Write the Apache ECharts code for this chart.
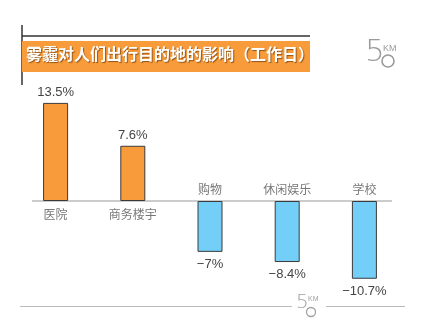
<!DOCTYPE html>
<html><head><meta charset="utf-8">
<script src="https://cdn.jsdelivr.net/npm/echarts@6/dist/echarts.min.js"></script>
<style>html,body{margin:0;padding:0;background:#fff}#c{width:424px;height:332px}</style>
</head><body><div id="c"></div>
<script>
var categories = ['医院', '商务楼宇', '购物', '休闲娱乐', '学校'];
var values = [13.5, 7.6, -7, -8.4, -10.7];
var titleText = '雾霾对人们出行目的地的影响（工作日）';

var chart = echarts.init(document.getElementById('c'), null, {renderer: 'canvas'});
var FONT = '"Noto Sans CJK SC", "Liberation Sans", sans-serif';

function fmt(v) { return (v < 0 ? '\u2212' + Math.abs(v) : String(v)) + '%'; }

var option = {
  backgroundColor: '#fff',
  animation: false,
  grid: {left: 17, right: 21, top: 92, bottom: 22},
  xAxis: {type: 'category', data: categories, axisLine: {show: false}, axisTick: {show: false}, axisLabel: {show: false}, splitLine: {show: false}},
  yAxis: {type: 'value', min: -15, max: 15, show: false, splitLine: {show: false}},
  series: [
    {
      type: 'bar', barWidth: 25,
      data: values.map(function (v) {
        return {
          value: v,
          itemStyle: {color: v >= 0 ? '#F89B3A' : '#73CFF7', borderColor: '#3a3a3a', borderWidth: 1},
          label: {show: true, position: v >= 0 ? 'top' : 'bottom', distance: v >= 0 ? 4 : 6,
                  formatter: fmt(v), fontSize: 13, color: '#444', fontFamily: '"Liberation Sans", Arial, sans-serif'}
        };
      })
    },
    {
      type: 'scatter', symbolSize: 0, silent: true,
      data: values.map(function (v, i) {
        return {
          value: [categories[i], 0],
          label: {show: true, position: v >= 0 ? 'bottom' : 'top', distance: v >= 0 ? 7 : 6,
                  formatter: categories[i], fontSize: 12, color: '#555', fontFamily: FONT}
        };
      })
    }
  ],
  graphic: [
    {type: 'line', shape: {x1: 22, y1: 36, x2: 310, y2: 36}, style: {stroke: '#333', lineWidth: 1.5}},
    {type: 'line', shape: {x1: 22, y1: 25, x2: 22, y2: 85}, style: {stroke: '#333', lineWidth: 1.5}},
    {type: 'rect', shape: {x: 22, y: 41, width: 288, height: 31}, style: {fill: '#F89B3A'}},
    {type: 'text', left: 26, top: 46, style: {text: titleText, fontSize: 16, fontWeight: 'bold', fill: '#fff', fontFamily: FONT,
      textShadowColor: 'rgba(80,40,0,0.6)', textShadowBlur: 1, textShadowOffsetX: 1, textShadowOffsetY: 1}},
    {type: 'line', shape: {x1: 20, y1: 306.5, x2: 292, y2: 306.5}, style: {stroke: '#bbb', lineWidth: 1}},
    {type: 'line', shape: {x1: 326, y1: 306.5, x2: 405, y2: 306.5}, style: {stroke: '#bbb', lineWidth: 1}},
    {type: 'text', left: 365, top: 37, style: {text: '5', fontSize: 31, fontFamily: '"DejaVu Sans", sans-serif', fontWeight: 300, fill: '#9a9a9a'}},
    {type: 'circle', shape: {cx: 388, cy: 61, r: 6}, style: {fill: 'none', stroke: '#9a9a9a', lineWidth: 1.6}},
    {type: 'text', left: 383, top: 44, style: {text: 'KM', fontSize: 9, fontFamily: '"Liberation Sans", sans-serif', fill: '#9a9a9a'}},
    {type: 'text', left: 296, top: 293, style: {text: '5', fontSize: 20, fontFamily: '"DejaVu Sans", sans-serif', fontWeight: 300, fill: '#a0a0a0'}},
    {type: 'circle', shape: {cx: 311, cy: 312, r: 4.5}, style: {fill: 'none', stroke: '#a0a0a0', lineWidth: 1.3}},
    {type: 'text', left: 308, top: 296, style: {text: 'KM', fontSize: 7, fontFamily: '"Liberation Sans", sans-serif', fill: '#a0a0a0'}}
  ]
};
chart.setOption(option);

// baseline at value 0, positioned through the chart's own scale
var y0 = chart.convertToPixel({gridIndex: 0}, [0, 0])[1];
var g = option.graphic.slice();
g.push({type: 'line', z: 0, shape: {x1: 32, y1: y0, x2: 392, y2: y0}, style: {stroke: '#999', lineWidth: 1}});
chart.setOption({graphic: g});
</script></body></html>
